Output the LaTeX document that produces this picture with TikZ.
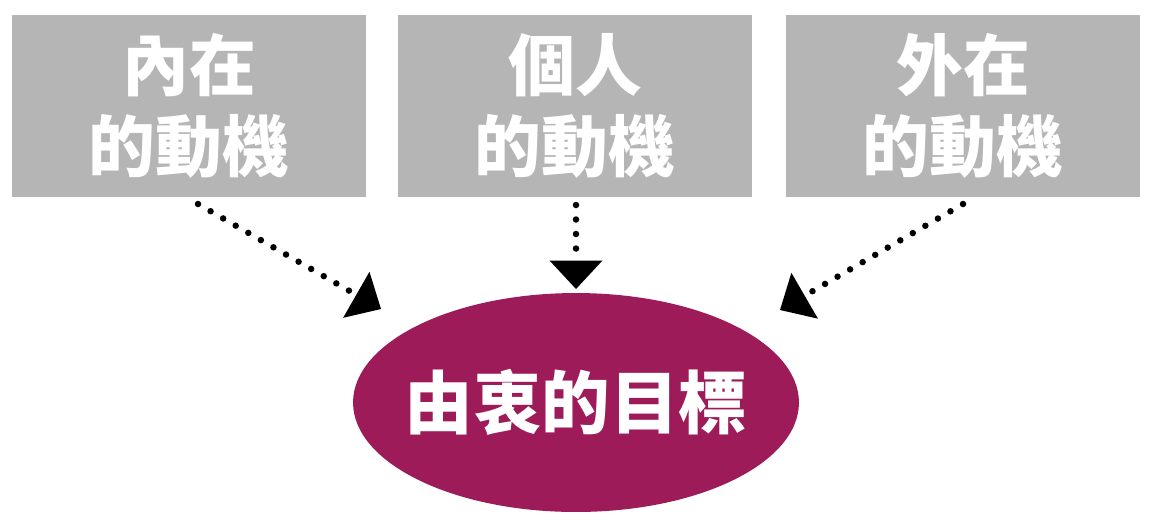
\documentclass[tikz,border=0pt]{standalone}
\usepackage{fontspec}
\newfontfamily\cjk{Noto Sans CJK TC}
\usetikzlibrary{arrows.meta,shapes.geometric}
\definecolor{boxgray}{HTML}{B5B5B5}
\definecolor{goalred}{HTML}{9C1B58}
\tikzset{
  motive/.style={fill=boxgray, minimum width=7.1cm, minimum height=3.64cm, inner sep=0pt,
    text=white, align=center, font=\cjk\bfseries\fontsize{38}{46.5}\selectfont},
  goal/.style={ellipse, fill=goalred, minimum width=8.92cm, minimum height=4.38cm, inner sep=0pt},
  goaltext/.style={text=white, inner sep=0pt, font=\cjk\bfseries\fontsize{39}{46}\selectfont},
  link/.style={line width=0.13cm, line cap=round, dash pattern=on 0pt off 0.29cm,
    -{Triangle[width=1.06cm,length=0.57cm,line width=0pt]}}
}
\begin{document}
\begin{tikzpicture}[x=0.02cm, y=-0.02cm]
    \useasboundingbox (0,0) rectangle (1152,522);

    % Motives
    \node[motive] (inner) at (189,106) {內在\\的動機};
    \node[motive] (personal) at (575,106) {個人\\的動機};
    \node[motive] (outer) at (963,106) {外在\\的動機};

    % Goal
    \node[goal] (goal) at (576,402.5) {};
    \node[goaltext] (goal-text) at (goal.center) {由衷的目標};

    % Arrow ends
    \coordinate (inner-out) at (198,204);
    \coordinate (inner-tip) at (381,309);
    \coordinate (personal-out) at (576,205);
    \coordinate (personal-tip) at (576,289);
    \coordinate (outer-out) at (963,204);
    \coordinate (outer-tip) at (780,310);

    % Dotted arrows
    \draw[link] (inner-out) -- (inner-tip);
    \draw[link] (personal-out) -- (personal-tip);
    \draw[link] (outer-out) -- (outer-tip);
\end{tikzpicture}
\end{document}
